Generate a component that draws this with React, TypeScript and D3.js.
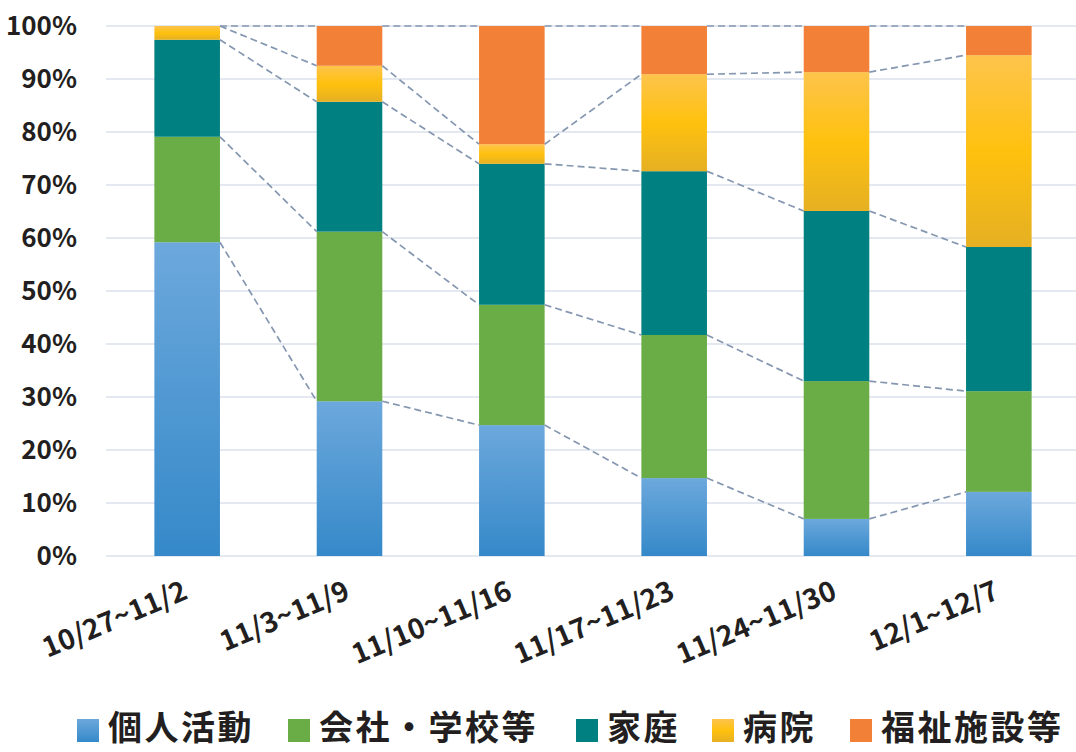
import * as d3 from "d3";

const categories = ["10/27~11/2", "11/3~11/9", "11/10~11/16", "11/17~11/23", "11/24~11/30", "12/1~12/7"];
const seriesNames = ["個人活動", "会社・学校等", "家庭", "病院", "福祉施設等"];

// percent shares per week
const kojin = [59.2, 29.2, 24.7, 14.7, 7.0, 12.1];
const kaisha = [19.9, 32.0, 22.7, 27.0, 26.0, 19.0];
const katei = [18.3, 24.5, 26.6, 30.9, 32.1, 27.2];
const byoin = [2.6, 6.8, 3.7, 18.3, 26.2, 36.2];
const fukushi = [0, 7.5, 22.3, 9.1, 8.7, 5.5];
const yTicks = [0, 0.1, 0.2, 0.3, 0.4, 0.5, 0.6, 0.7, 0.8, 0.9, 1];

const fills = ["url(#gBlue)", "#6aac45", "#008080", "url(#gYellow)", "#f28037"];
const font = "'Noto Sans CJK JP', 'Noto Sans', sans-serif";

export default function App() {
  const W = 1076, H = 752;
  const left = 106, right = 1080, top = 26, bottom = 556;

  const rows = categories.map((c, i) => ({
    cat: c,
    [seriesNames[0]]: kojin[i],
    [seriesNames[1]]: kaisha[i],
    [seriesNames[2]]: katei[i],
    [seriesNames[3]]: byoin[i],
    [seriesNames[4]]: fukushi[i],
  }));
  const stacked = d3.stack<any>().keys(seriesNames).offset(d3.stackOffsetExpand)(rows);

  const x = d3.scaleBand().domain(categories).range([left, right]).paddingInner(0.596).paddingOuter(0.298);
  const y = d3.scaleLinear().domain([0, 1]).range([bottom, top]);
  const bw = x.bandwidth();
  const fmt = d3.format(".0%");

  // legend layout
  const legendX = [77, 288, 576, 712, 850];

  return (
    <svg width={W} height={H} style={{ position: "absolute", left: 0, top: 0, background: "#fff" }}>
      <defs>
        <linearGradient id="gBlue" x1="0" y1="0" x2="0" y2="1">
          <stop offset="0" stopColor="#6ca8dc" />
          <stop offset="1" stopColor="#3589c9" />
        </linearGradient>
        <linearGradient id="gYellow" x1="0" y1="0" x2="0" y2="1">
          <stop offset="0" stopColor="#fdc44c" />
          <stop offset="0.5" stopColor="#ffc10e" />
          <stop offset="1" stopColor="#e5b023" />
        </linearGradient>
      </defs>

      {/* gridlines */}
      {yTicks.map((t) => (
        <line key={t} x1={left} x2={W} y1={y(t)} y2={y(t)} stroke="#dbe2ec" strokeWidth={1.5} />
      ))}

      {/* y labels */}
      {yTicks.map((t) => (
        <text key={t} x={77} y={y(t)} dy="0.36em" textAnchor="end" fontFamily={font} fontWeight={700} fontSize={26} fill="#231f20">
          {fmt(t)}
        </text>
      ))}

      {/* bars */}
      {stacked.map((s, si) => (
        <g key={s.key} fill={fills[si]}>
          {s.map((d, i) =>
            y(d[0]) - y(d[1]) > 0 ? (
              <rect key={i} x={x(categories[i])} y={y(d[1])} width={bw} height={y(d[0]) - y(d[1])} />
            ) : null
          )}
        </g>
      ))}

      {/* series lines */}
      {stacked.map((s) => (
        <g key={"l" + s.key}>
          {s.slice(0, -1).map((d, i) => (
            <line
              key={i}
              x1={(x(categories[i]) as number) + bw}
              y1={y(d[1])}
              x2={x(categories[i + 1]) as number}
              y2={y(s[i + 1][1])}
              stroke="#8597b0"
              strokeWidth={1.7}
              strokeDasharray="7 4"
            />
          ))}
        </g>
      ))}

      {/* x labels */}
      {categories.map((c) => (
        <text
          key={c}
          transform={`translate(${(x(c) as number) + bw / 2 + 2},598) rotate(-23)`}
          textAnchor="end"
          fontFamily={font}
          fontWeight={700}
          fontSize={28}
          fill="#231f20"
        >
          {c}
        </text>
      ))}

      {/* legend */}
      {seriesNames.map((n, i) => (
        <g key={n} transform={`translate(${legendX[i]},0)`}>
          <rect x={0} y={719} width={22} height={23} fill={fills[i]} />
          <text x={31} y={740} fontFamily={font} fontWeight={700} fontSize={34} letterSpacing={2.5} fill="#231f20">
            {n}
          </text>
        </g>
      ))}
    </svg>
  );
}
